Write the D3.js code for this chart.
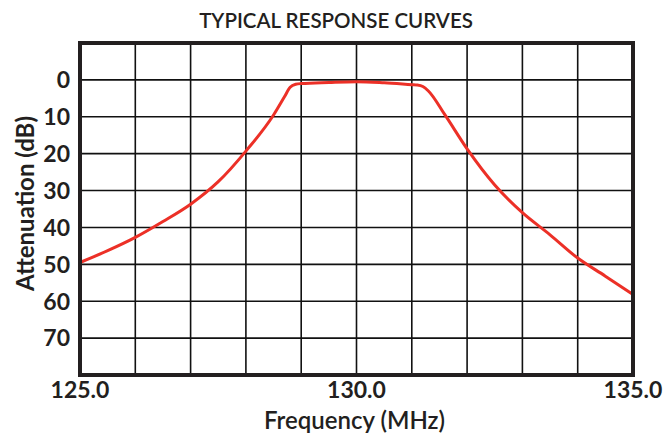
<!DOCTYPE html>
<html>
<head>
<meta charset="utf-8">
<script src="https://cdn.jsdelivr.net/npm/d3@7"></script>
<style>
  body { margin: 0; background: #fff; }
  text { font-family: Lato, "Open Sans", sans-serif; fill: #231f20; }
</style>
</head>
<body>
<div id="chart"></div>
<script>
const freqs = [125, 125.5, 126, 126.5, 127, 127.5, 128, 128.5, 128.7, 128.8, 128.9, 129, 129.5, 130,
    130.5, 131, 131.1, 131.2, 131.3, 131.6, 132, 132.5, 133, 133.5, 134, 134.5, 135];
const atten = [49.5, 46.3, 42.7, 38.4, 33.7, 27.6, 19.3, 9.5, 4.5, 2.0, 1.2, 1.0, 0.7, 0.5,
    0.8, 1.3, 1.4, 1.8, 3.0, 9.5, 18.7, 28.5, 36.0, 42.0, 48.3, 53.2, 58.2];
const xTicks = [125, 130, 135];
const yTicks = [0, 10, 20, 30, 40, 50, 60, 70];

const width = 672;
const height = 435;
const margin = { top: 43, right: 39, bottom: 60, left: 80 };

const svg = d3.select("#chart")
    .append("svg")
    .attr("width", width)
    .attr("height", height);

const x = d3.scaleLinear()
    .domain([125, 135])
    .range([margin.left, width - margin.right]);

const y = d3.scaleLinear()
    .domain([-10, 80])
    .range([margin.top, height - margin.bottom]);

// grid
svg.append("g")
    .selectAll("line")
    .data(d3.range(126, 135))
    .join("line")
    .attr("x1", d => x(d))
    .attr("x2", d => x(d))
    .attr("y1", y(-10))
    .attr("y2", y(80))
    .attr("stroke", "#111")
    .attr("stroke-width", 1.6);

svg.append("g")
    .selectAll("line")
    .data(yTicks)
    .join("line")
    .attr("x1", x(125))
    .attr("x2", x(135))
    .attr("y1", d => y(d))
    .attr("y2", d => y(d))
    .attr("stroke", "#111")
    .attr("stroke-width", 1.6);

// curve
const line = d3.line()
    .x(d => x(d[0]))
    .y(d => y(d[1]))
    .curve(d3.curveMonotoneX);

svg.append("path")
    .datum(freqs.map((f, i) => [f, atten[i]]))
    .attr("d", line)
    .attr("fill", "none")
    .attr("stroke", "#ec3027")
    .attr("stroke-width", 3);

// frame
svg.append("rect")
    .attr("x", x(125))
    .attr("y", y(-10))
    .attr("width", x(135) - x(125))
    .attr("height", y(80) - y(-10))
    .attr("fill", "none")
    .attr("stroke", "#231f20")
    .attr("stroke-width", 4);

// axes labels
svg.append("g")
    .selectAll("text")
    .data(yTicks)
    .join("text")
    .attr("x", x(125) - 10)
    .attr("y", d => y(d))
    .attr("dy", "0.36em")
    .attr("text-anchor", "end")
    .attr("font-size", 23)
    .attr("font-weight", "bold")
    .text(d => d);

svg.append("g")
    .selectAll("text")
    .data(xTicks)
    .join("text")
    .attr("x", d => x(d))
    .attr("y", 398)
    .attr("text-anchor", "middle")
    .attr("font-size", 23)
    .attr("font-weight", "bold")
    .text(d => d.toFixed(1));

svg.append("text")
    .attr("x", x(130) - 2)
    .attr("y", 429)
    .attr("text-anchor", "middle")
    .attr("font-size", 24)
    .attr("font-weight", 600)
    .text("Frequency (MHz)");

svg.append("text")
    .attr("transform", `translate(34, ${y(33.5)}) rotate(-90)`)
    .attr("text-anchor", "middle")
    .attr("font-size", 24)
    .attr("font-weight", "bold")
    .text("Attenuation (dB)");

svg.append("text")
    .attr("x", width / 2)
    .attr("y", 28)
    .attr("text-anchor", "middle")
    .attr("font-size", 20.5)
    .attr("font-weight", 600)
    .text("TYPICAL RESPONSE CURVES");
</script>
</body>
</html>
